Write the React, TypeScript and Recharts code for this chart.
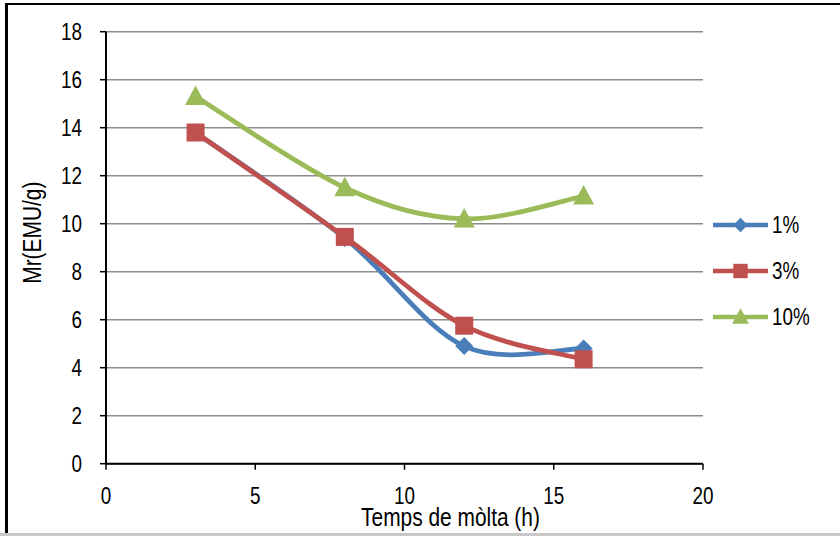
import React from 'react';
import { LineChart, Line, XAxis, YAxis, CartesianGrid } from 'recharts';

// Milling time (h) and remanent magnetisation Mr (EMU/g) per doping level
const hours = [3, 8, 12, 16];
const mr1 = [13.8, 9.4, 4.9, 4.8];
const mr3 = [13.8, 9.45, 5.75, 4.35];
const mr10 = [15.3, 11.5, 10.2, 11.15];
const seriesNames = ['1%', '3%', '10%'];
const seriesColors = ['#4A7EBB', '#C0504D', '#9BBB59'];
const xTicks = [0, 5, 10, 15, 20];
const yTicks = [0, 2, 4, 6, 8, 10, 12, 14, 16, 18];

const data = hours.map((t, i) => ({ t, s1: mr1[i], s3: mr3[i], s10: mr10[i] }));

const FONT = "'Liberation Sans', Arial, sans-serif";
// horizontal squeeze giving a narrow sans look
const SQUEEZE = 0.82;

// Catmull-Rom style smoothing through every point (curve factory for d3-shape)
function smoothCurve(context: any) {
  let pts: number[][] = [];
  return {
    areaStart() {},
    areaEnd() {},
    lineStart() {
      pts = [];
    },
    point(x: number, y: number) {
      pts.push([+x, +y]);
    },
    lineEnd() {
      const n = pts.length;
      if (!n) return;
      context.moveTo(pts[0][0], pts[0][1]);
      for (let i = 0; i < n - 1; i++) {
        const p0 = pts[Math.max(i - 1, 0)];
        const p1 = pts[i];
        const p2 = pts[i + 1];
        const p3 = pts[Math.min(i + 2, n - 1)];
        context.bezierCurveTo(
          p1[0] + (p2[0] - p0[0]) / 6,
          p1[1] + (p2[1] - p0[1]) / 6,
          p2[0] - (p3[0] - p1[0]) / 6,
          p2[1] - (p3[1] - p1[1]) / 6,
          p2[0],
          p2[1]
        );
      }
    },
  };
}

function markerPath(kind: number, cx: number, cy: number, s: number) {
  if (kind === 0) {
    const r = 9 * s;
    return `M${cx},${cy - r}L${cx + r},${cy}L${cx},${cy + r}L${cx - r},${cy}Z`;
  }
  if (kind === 1) {
    const h = 9 * s;
    return `M${cx - h},${cy - h}L${cx + h},${cy - h}L${cx + h},${cy + h}L${cx - h},${cy + h}Z`;
  }
  const w = 10.5 * s;
  return `M${cx},${cy - 11 * s}L${cx + w},${cy + 8.5 * s}L${cx - w},${cy + 8.5 * s}Z`;
}

const makeDot = (kind: number, color: string) => (p: any) => (
  <path key={`d${kind}-${p.index}`} d={markerPath(kind, p.cx, p.cy, 1)} fill={color} />
);

// Text squeezed horizontally around its own anchor point
const NarrowText = ({ x, y, anchor, dy, size, rotate, children }: any) => (
  <text
    transform={`translate(${x},${y})${rotate ? ` rotate(${rotate})` : ''} scale(${SQUEEZE},1)`}
    textAnchor={anchor}
    dy={dy}
    fontSize={size}
    fontFamily={FONT}
    fill="#000"
  >
    {children}
  </text>
);

const XTick = (p: any) => (
  <NarrowText x={p.x} y={p.y} anchor="middle" dy="0.72em" size={23}>
    {p.payload.value}
  </NarrowText>
);

const YTick = (p: any) => (
  <NarrowText x={p.x} y={p.y} anchor="end" dy="0.36em" size={23}>
    {p.payload.value}
  </NarrowText>
);

const LegendBox = () => (
  <svg width={125} height={170} style={{ position: 'absolute', left: 705, top: 170, overflow: 'visible' }}>
    {seriesNames.map((name, i) => {
      const y = 55 + i * 46;
      return (
        <g key={name}>
          <line x1={8} x2={63} y1={y} y2={y} stroke={seriesColors[i]} strokeWidth={4.5} />
          <path d={markerPath(i, 35.5, y, 0.8)} fill={seriesColors[i]} />
          <NarrowText x={67} y={y} anchor="start" dy="0.36em" size={23}>
            {name}
          </NarrowText>
        </g>
      );
    })}
  </svg>
);

export default function App() {
  return (
    <div style={{ position: 'absolute', left: 0, top: 0, width: 840, height: 536, background: '#fff', overflow: 'hidden' }}>
      <div style={{ position: 'absolute', left: 5, top: 3, width: 840, height: 2, background: '#000' }} />
      <div style={{ position: 'absolute', left: 5, top: 3, width: 2.5, height: 531, background: '#000' }} />
      <div style={{ position: 'absolute', left: 0, top: 533, width: 840, height: 3, background: '#c8c8c8' }} />
      <LineChart
        width={840}
        height={536}
        data={data}
        margin={{ top: 31.7, right: 137, bottom: 0, left: 0 }}
        style={{ fontFamily: FONT, position: 'absolute', left: 0, top: 0 }}
      >
        <CartesianGrid vertical={false} stroke="#8c8c8c" strokeWidth={1.5} />
        <XAxis
          type="number"
          dataKey="t"
          domain={[0, 20]}
          ticks={xTicks}
          height={72.3}
          axisLine={{ stroke: '#000', strokeWidth: 2 }}
          tickLine={{ stroke: '#000', strokeWidth: 1.5 }}
          tickSize={6}
          tickMargin={18}
          tick={<XTick />}
          label={{
            content: (props: any) => {
              const vb = props.viewBox;
              return (
                <NarrowText x={vb.x + vb.width / 2 + 46} y={vb.y + 62} anchor="middle" size={25.5}>
                  Temps de mòlta (h)
                </NarrowText>
              );
            },
          }}
        />
        <YAxis
          type="number"
          domain={[0, 18]}
          ticks={yTicks}
          width={106}
          axisLine={{ stroke: '#000', strokeWidth: 2 }}
          tickLine={{ stroke: '#000', strokeWidth: 1.5 }}
          tickSize={6}
          tickMargin={18}
          tick={<YTick />}
          label={{
            content: (props: any) => {
              const vb = props.viewBox;
              const cy = vb.y + vb.height / 2 - 15;
              return (
                <NarrowText x={31.5} y={cy} rotate={-90} anchor="middle" dy="0.36em" size={25.5}>
                  Mr(EMU/g)
                </NarrowText>
              );
            },
          }}
        />
        <Line
          dataKey="s1"
          name={seriesNames[0]}
          type={smoothCurve as any}
          stroke={seriesColors[0]}
          strokeWidth={4.8}
          dot={makeDot(0, seriesColors[0])}
          activeDot={false}
          isAnimationActive={false}
        />
        <Line
          dataKey="s3"
          name={seriesNames[1]}
          type={smoothCurve as any}
          stroke={seriesColors[1]}
          strokeWidth={4.8}
          dot={makeDot(1, seriesColors[1])}
          activeDot={false}
          isAnimationActive={false}
        />
        <Line
          dataKey="s10"
          name={seriesNames[2]}
          type={smoothCurve as any}
          stroke={seriesColors[2]}
          strokeWidth={4.8}
          dot={makeDot(2, seriesColors[2])}
          activeDot={false}
          isAnimationActive={false}
        />
      </LineChart>
      <LegendBox />
    </div>
  );
}
